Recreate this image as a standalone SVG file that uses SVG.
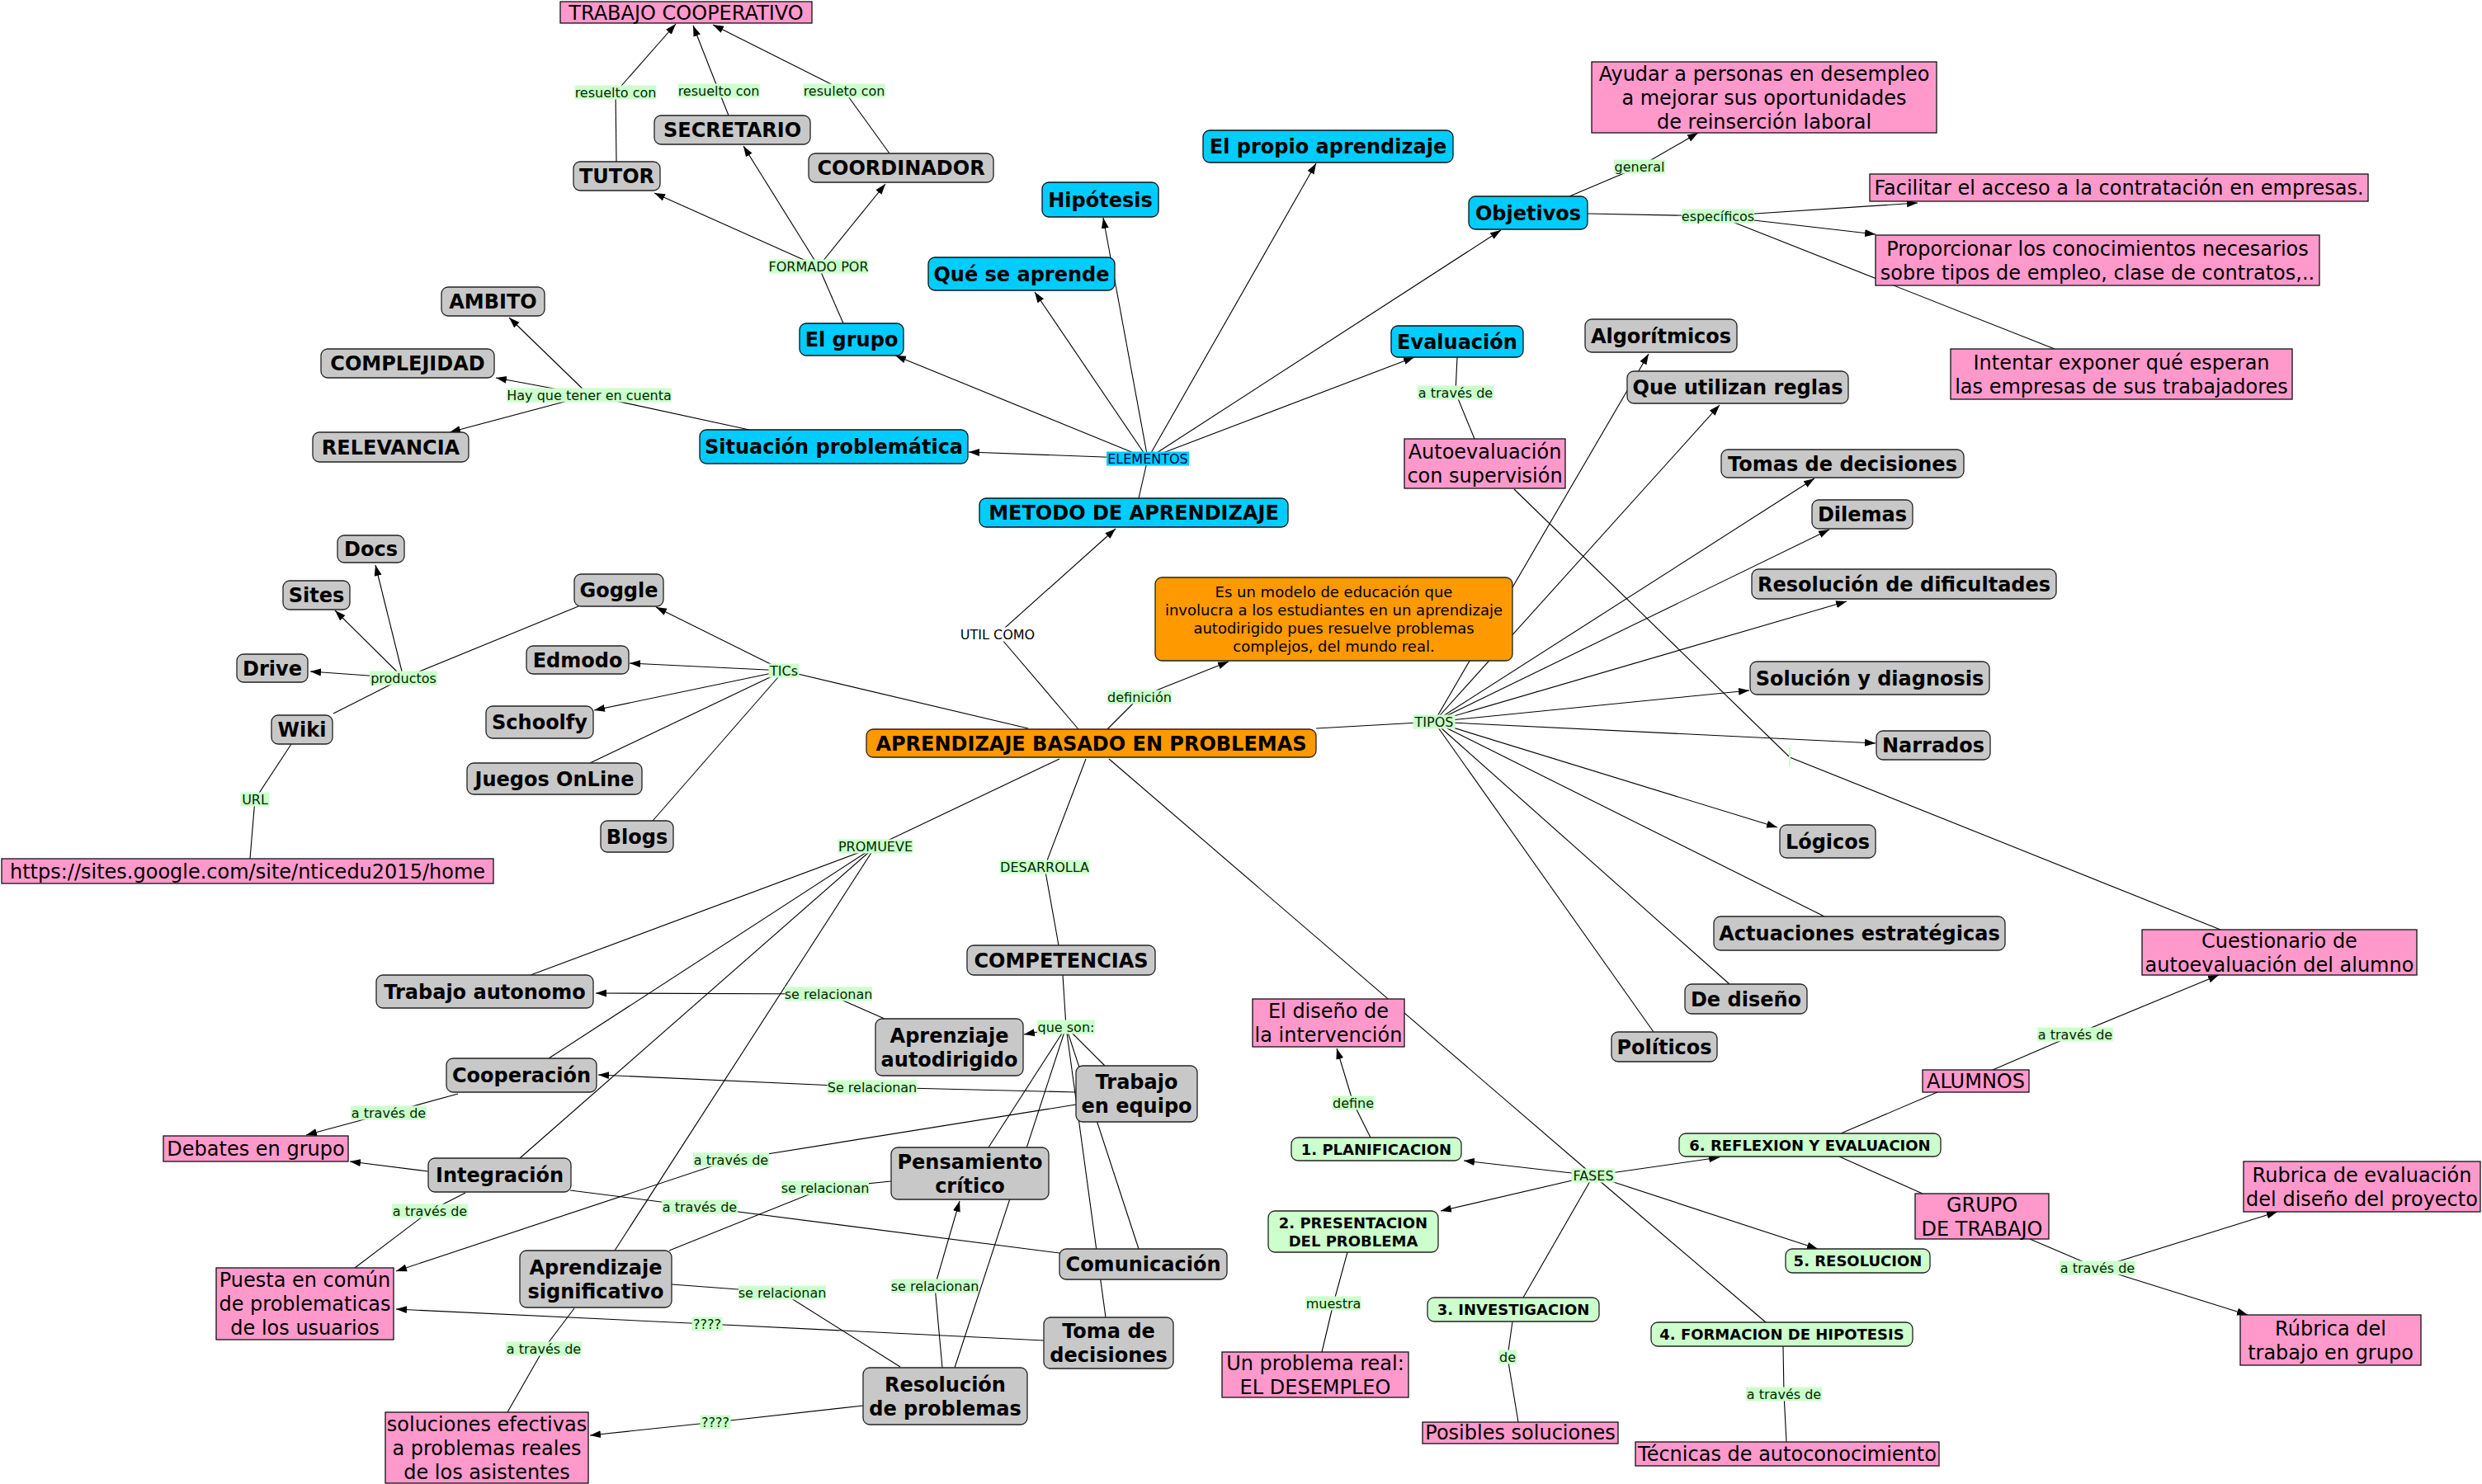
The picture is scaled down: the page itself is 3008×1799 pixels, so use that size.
<svg xmlns="http://www.w3.org/2000/svg" width="3008" height="1799" viewBox="0 0 3008 1799">
<style>
text{font-family:"DejaVu Sans",Verdana,"Liberation Sans",sans-serif;text-anchor:middle;fill:#000}
.c{stroke:#000;stroke-width:1.1;fill:none}
.a{marker-end:url(#arr)}
.g rect{fill:#c8c8c8;stroke:#222;stroke-width:1.3}
.b rect{fill:#00ccff;stroke:#111;stroke-width:1.3}
.o rect{fill:#ff9900;stroke:#222;stroke-width:1.3}
.p rect{fill:#ff99cc;stroke:#111;stroke-width:1.3}
.f rect{fill:#ccffcc;stroke:#222;stroke-width:1.3}
.g text,.b text,.o text.bd{font-size:24px;font-weight:bold}
.p text{font-size:24px}
.o text.sm{font-size:18px}
.f text{font-size:18px;font-weight:bold}
.l rect{fill:#ccffcc}
.l text{font-size:16px;fill:#002800}
</style>
<defs>
<marker id="arr" markerWidth="14" markerHeight="10" refX="13" refY="5" orient="auto" markerUnits="userSpaceOnUse"><path d="M0,0.5 L13,5 L0,9.5 z" fill="#000"/></marker>
</defs>
<rect width="3008" height="1799" fill="#fff"/>
<g id="connectors">
<path class="c" d="M747,196 L746,112"/><path class="c a" d="M746,112 L819,29"/>
<path class="c" d="M883,140 L871,110"/><path class="c a" d="M871,110 L840,31"/>
<path class="c" d="M1078,186 L1023,110"/><path class="c a" d="M1023,110 L864,30"/>
<path class="c" d="M1022,392 L992,323"/><path class="c a" d="M992,323 L793,234"/><path class="c a" d="M992,323 L901,177"/><path class="c a" d="M992,323 L1073,223"/>
<path class="c" d="M908,521 L714,479"/><path class="c a" d="M714,479 L617,385"/><path class="c a" d="M714,479 L601,458"/><path class="c a" d="M714,479 L545,524"/>
<path class="c" d="M1380,604 L1391,556"/>
<path class="c a" d="M1391,556 L1174,548"/><path class="c a" d="M1391,556 L1085,431"/><path class="c a" d="M1391,556 L1254,354"/><path class="c a" d="M1391,556 L1337,264"/><path class="c a" d="M1391,556 L1595,198"/><path class="c a" d="M1391,556 L1819,279"/><path class="c a" d="M1391,556 L1714,433"/>
<path class="c" d="M1766,433 L1764,476 L1787,532"/>
<path class="c" d="M1902,238 L1987,202"/><path class="c a" d="M1987,202 L2058,161"/>
<path class="c" d="M1924,259 L2082,262"/><path class="c a" d="M2082,262 L2324,246"/><path class="c a" d="M2082,262 L2273,284"/><path class="c" d="M2082,262 L2490,423"/>
<path class="c" d="M1835,593 L2169,918 L2691,1127"/>
<path class="c a" d="M489,822 L455,685"/><path class="c a" d="M489,822 L406,740"/><path class="c a" d="M489,822 L376,814"/>
<path class="c" d="M701,735 L489,822"/><path class="c" d="M404,865 L489,822"/>
<path class="c" d="M353,902 L309,969 L303,1041"/>
<path class="c" d="M1246,883 L950,813"/>
<path class="c a" d="M950,813 L795,736"/><path class="c a" d="M950,813 L763,804"/><path class="c a" d="M950,813 L720,861"/><path class="c" d="M950,813 L715,925"/><path class="c" d="M950,813 L791,995"/>
<path class="c" d="M1307,884 L1209,769"/><path class="c a" d="M1209,769 L1352,641"/>
<path class="c" d="M1342,884 L1381,845"/><path class="c a" d="M1381,845 L1489,802"/>
<path class="c" d="M1595,883 L1738,875"/>
<path class="c a" d="M1738,875 L1998,429"/><path class="c a" d="M1738,875 L2084,491"/><path class="c a" d="M1738,875 L2199,580"/><path class="c a" d="M1738,875 L2217,642"/><path class="c a" d="M1738,875 L2238,729"/><path class="c a" d="M1738,875 L2120,837"/><path class="c a" d="M1738,875 L2273,901"/><path class="c a" d="M1738,875 L2154,1003"/>
<path class="c" d="M1738,875 L2211,1111"/><path class="c" d="M1738,875 L2096,1193"/><path class="c" d="M1738,875 L2004,1251"/>
<path class="c" d="M1284,920 L1061,1026"/>
<path class="c" d="M1061,1026 L643,1182"/><path class="c" d="M1061,1026 L665,1283"/><path class="c" d="M1061,1026 L630,1404"/><path class="c" d="M1061,1026 L745,1516"/>
<path class="c" d="M1316,920 L1266,1051 L1283,1146"/>
<path class="c" d="M1344,920 L1931,1425"/>
<path class="c a" d="M1931,1425 L1774,1407"/><path class="c a" d="M1931,1425 L1746,1468"/><path class="c" d="M1931,1425 L1846,1573"/><path class="c" d="M1931,1425 L2140,1603"/><path class="c a" d="M1931,1425 L2203,1514"/><path class="c a" d="M1931,1425 L2084,1403"/>
<path class="c" d="M1288,1182 L1292,1245"/>
<path class="c a" d="M1292,1245 L1241,1254"/><path class="c" d="M1292,1245 L1339,1292"/><path class="c" d="M1292,1245 L1198,1391"/><path class="c" d="M1292,1245 L1157,1658"/><path class="c" d="M1292,1245 L1380,1514"/><path class="c" d="M1292,1245 L1340,1597"/>
<path class="c" d="M1072,1235 L1004,1205"/><path class="c a" d="M1004,1205 L722,1204"/>
<path class="c" d="M1304,1324 L1057,1318"/><path class="c a" d="M1057,1318 L725,1303"/>
<path class="c" d="M555,1326 L471,1349"/><path class="c a" d="M471,1349 L371,1376"/>
<path class="c a" d="M519,1420 L424,1408"/>
<path class="c" d="M564,1446 L521,1468 L430,1537"/>
<path class="c" d="M691,1443 L848,1463 L1284,1519"/>
<path class="c" d="M1304,1339 L886,1406"/><path class="c a" d="M886,1406 L480,1541"/>
<path class="c" d="M811,1516 L1000,1440 L1080,1432"/>
<path class="c" d="M814,1557 L948,1567 L1091,1657"/>
<path class="c" d="M1265,1625 L857,1605"/><path class="c a" d="M857,1605 L480,1587"/>
<path class="c" d="M696,1586 L659,1635 L615,1712"/>
<path class="c" d="M1046,1704 L867,1724"/><path class="c a" d="M867,1724 L715,1740"/>
<path class="c" d="M1142,1658 L1133,1559"/><path class="c a" d="M1133,1559 L1163,1456"/>
<path class="c" d="M1661,1379 L1640,1337"/><path class="c a" d="M1640,1337 L1620,1271"/>
<path class="c" d="M1633,1518 L1616,1580 L1602,1639"/>
<path class="c" d="M1833,1602 L1827,1645 L1840,1724"/>
<path class="c" d="M2161,1632 L2162,1690 L2165,1748"/>
<path class="c" d="M2231,1374 L2348,1324"/>
<path class="c" d="M2415,1297 L2515,1254"/><path class="c a" d="M2515,1254 L2689,1182"/>
<path class="c" d="M2229,1402 L2330,1447"/>
<path class="c" d="M2460,1502 L2542,1537"/><path class="c a" d="M2542,1537 L2760,1469"/><path class="c a" d="M2542,1537 L2724,1594"/>
</g>
<g id="linking-phrases">
<g id="lp1" class="l"><rect x="696.5" y="103.5" width="99" height="17"/><text x="746" y="118">resuelto con</text></g>
<g id="lp2" class="l"><rect x="821.5" y="101.5" width="99" height="17"/><text x="871" y="116">resuelto con</text></g>
<g id="lp3" class="l"><rect x="973.5" y="101.5" width="99" height="17"/><text x="1023" y="116">resuleto con</text></g>
<g id="lp4" class="l"><rect x="931.5" y="314.5" width="121" height="17"/><text x="992" y="329">FORMADO POR</text></g>
<g id="lp5" class="l"><rect x="614" y="470.5" width="200" height="17"/><text x="714" y="485">Hay que tener en cuenta</text></g>
<g id="lp6"><rect x="1341" y="547.5" width="100" height="17" fill="#00ccff"/><text x="1391" y="562" style="font-size:16px;fill:#000044">ELEMENTOS</text></g>
<g id="lp7" class="l"><rect x="1718" y="467.5" width="92" height="17"/><text x="1764" y="482">a través de</text></g>
<g id="lp8" class="l"><rect x="1956" y="193.5" width="62" height="17"/><text x="1987" y="208">general</text></g>
<g id="lp9" class="l"><rect x="2038" y="253.5" width="88" height="17"/><text x="2082" y="268">específicos</text></g>
<g id="lp10"><rect x="2168" y="906" width="2" height="23" fill="#ccffcc"/></g>
<g id="lp11" class="l"><rect x="448" y="813.5" width="82" height="17"/><text x="489" y="828">productos</text></g>
<g id="lp12" class="l"><rect x="931.5" y="804.5" width="37" height="17"/><text x="950" y="819">TICs</text></g>
<g id="lp13" class="l"><rect x="291.5" y="960.5" width="35" height="17"/><text x="309" y="975">URL</text></g>
<g id="lp14"><rect x="1162.5" y="760.5" width="93" height="17" fill="#fff"/><text x="1209" y="775" style="font-size:16px">UTIL COMO</text></g>
<g id="lp15" class="l"><rect x="1342" y="836.5" width="78" height="17"/><text x="1381" y="851">definición</text></g>
<g id="lp16" class="l"><rect x="1712.5" y="866.5" width="51" height="17"/><text x="1738" y="881">TIPOS</text></g>
<g id="lp17" class="l"><rect x="1015.5" y="1017.5" width="91" height="17"/><text x="1061" y="1032">PROMUEVE</text></g>
<g id="lp18" class="l"><rect x="1211.5" y="1042.5" width="109" height="17"/><text x="1266" y="1057">DESARROLLA</text></g>
<g id="lp19" class="l"><rect x="951" y="1196.5" width="106" height="17"/><text x="1004" y="1211">se relacionan</text></g>
<g id="lp20" class="l"><rect x="1257" y="1236.5" width="70" height="17"/><text x="1292" y="1251">que son:</text></g>
<g id="lp21" class="l"><rect x="1002.5" y="1309.5" width="109" height="17"/><text x="1057" y="1324">Se relacionan</text></g>
<g id="lp22" class="l"><rect x="425" y="1340.5" width="92" height="17"/><text x="471" y="1355">a través de</text></g>
<g id="lp23" class="l"><rect x="840" y="1397.5" width="92" height="17"/><text x="886" y="1412">a través de</text></g>
<g id="lp24" class="l"><rect x="947" y="1431.5" width="106" height="17"/><text x="1000" y="1446">se relacionan</text></g>
<g id="lp25" class="l"><rect x="802" y="1454.5" width="92" height="17"/><text x="848" y="1469">a través de</text></g>
<g id="lp26" class="l"><rect x="475" y="1459.5" width="92" height="17"/><text x="521" y="1474">a través de</text></g>
<g id="lp27" class="l"><rect x="895" y="1558.5" width="106" height="17"/><text x="948" y="1573">se relacionan</text></g>
<g id="lp28" class="l"><rect x="1080" y="1550.5" width="106" height="17"/><text x="1133" y="1565">se relacionan</text></g>
<g id="lp29" class="l"><rect x="838.5" y="1596.5" width="37" height="17"/><text x="857" y="1611">????</text></g>
<g id="lp30" class="l"><rect x="613" y="1626.5" width="92" height="17"/><text x="659" y="1641">a través de</text></g>
<g id="lp31" class="l"><rect x="848.5" y="1715.5" width="37" height="17"/><text x="867" y="1730">????</text></g>
<g id="lp32" class="l"><rect x="1614.5" y="1328.5" width="51" height="17"/><text x="1640" y="1343">define</text></g>
<g id="lp33" class="l"><rect x="1904.5" y="1416.5" width="53" height="17"/><text x="1931" y="1431">FASES</text></g>
<g id="lp34" class="l"><rect x="1582.5" y="1571.5" width="67" height="17"/><text x="1616" y="1586">muestra</text></g>
<g id="lp35" class="l"><rect x="1816" y="1636.5" width="22" height="17"/><text x="1827" y="1651">de</text></g>
<g id="lp36" class="l"><rect x="2469" y="1245.5" width="92" height="17"/><text x="2515" y="1260">a través de</text></g>
<g id="lp37" class="l"><rect x="2496" y="1528.5" width="92" height="17"/><text x="2542" y="1543">a través de</text></g>
<g id="lp38" class="l"><rect x="2116" y="1681.5" width="92" height="17"/><text x="2162" y="1696">a través de</text></g>
</g>
<g id="nodes">
<g id="n-secretario" class="g"><rect x="793" y="140" width="189" height="35" rx="8"/><text x="887.5" y="166">SECRETARIO</text></g>
<g id="n-tutor" class="g"><rect x="695" y="196" width="105" height="35" rx="8"/><text x="747.5" y="222">TUTOR</text></g>
<g id="n-coordinador" class="g"><rect x="980" y="186" width="224" height="35" rx="8"/><text x="1092" y="212">COORDINADOR</text></g>
<g id="n-ambito" class="g"><rect x="535" y="348" width="125" height="35" rx="8"/><text x="597.5" y="374">AMBITO</text></g>
<g id="n-complejidad" class="g"><rect x="389" y="423" width="210" height="35" rx="8"/><text x="494" y="449">COMPLEJIDAD</text></g>
<g id="n-relevancia" class="g"><rect x="379" y="524" width="189" height="36" rx="8"/><text x="473.5" y="550.5">RELEVANCIA</text></g>
<g id="n-algoritmicos" class="g"><rect x="1921" y="387" width="184" height="40" rx="8"/><text x="2013" y="415.5">Algorítmicos</text></g>
<g id="n-reglas" class="g"><rect x="1972" y="450" width="268" height="39" rx="8"/><text x="2106" y="478">Que utilizan reglas</text></g>
<g id="n-tomas" class="g"><rect x="2086" y="545" width="294" height="34" rx="8"/><text x="2233" y="570.5">Tomas de decisiones</text></g>
<g id="n-dilemas" class="g"><rect x="2196" y="606" width="122" height="35" rx="8"/><text x="2257" y="632">Dilemas</text></g>
<g id="n-resdif" class="g"><rect x="2123" y="690" width="369" height="36" rx="8"/><text x="2307.5" y="716.5">Resolución de dificultades</text></g>
<g id="n-solucion" class="g"><rect x="2121" y="802" width="290" height="40" rx="8"/><text x="2266" y="830.5">Solución y diagnosis</text></g>
<g id="n-narrados" class="g"><rect x="2274" y="886" width="138" height="35" rx="8"/><text x="2343" y="912">Narrados</text></g>
<g id="n-logicos" class="g"><rect x="2157" y="1000" width="116" height="40" rx="8"/><text x="2215" y="1028.5">Lógicos</text></g>
<g id="n-actuaciones" class="g"><rect x="2077" y="1111" width="353" height="41" rx="8"/><text x="2253.5" y="1140">Actuaciones estratégicas</text></g>
<g id="n-dediseno" class="g"><rect x="2042" y="1193" width="148" height="36" rx="8"/><text x="2116" y="1219.5">De diseño</text></g>
<g id="n-politicos" class="g"><rect x="1953" y="1251" width="128" height="36" rx="8"/><text x="2017" y="1277.5">Políticos</text></g>
<g id="n-docs" class="g"><rect x="409" y="649" width="81" height="33" rx="8"/><text x="449.5" y="674">Docs</text></g>
<g id="n-sites" class="g"><rect x="343" y="704" width="81" height="35" rx="8"/><text x="383.5" y="730">Sites</text></g>
<g id="n-goggle" class="g"><rect x="696" y="696" width="108" height="39" rx="8"/><text x="750" y="724">Goggle</text></g>
<g id="n-drive" class="g"><rect x="287" y="793" width="86" height="34" rx="8"/><text x="330" y="818.5">Drive</text></g>
<g id="n-edmodo" class="g"><rect x="638" y="783" width="124" height="34" rx="8"/><text x="700" y="808.5">Edmodo</text></g>
<g id="n-schoolfy" class="g"><rect x="589" y="856" width="130" height="39" rx="8"/><text x="654" y="884">Schoolfy</text></g>
<g id="n-wiki" class="g"><rect x="329" y="867" width="74" height="35" rx="8"/><text x="366" y="893">Wiki</text></g>
<g id="n-juegos" class="g"><rect x="566" y="925" width="212" height="38" rx="8"/><text x="672" y="952.5">Juegos OnLine</text></g>
<g id="n-blogs" class="g"><rect x="728" y="995" width="88" height="38" rx="8"/><text x="772" y="1022.5">Blogs</text></g>
<g id="n-autonomo" class="g"><rect x="456" y="1182" width="263" height="40" rx="8"/><text x="587.5" y="1210.5">Trabajo autonomo</text></g>
<g id="n-competencias" class="g"><rect x="1172" y="1146" width="228" height="36" rx="8"/><text x="1286" y="1172.5">COMPETENCIAS</text></g>
<g id="n-cooperacion" class="g"><rect x="541" y="1283" width="182" height="41" rx="8"/><text x="632" y="1312">Cooperación</text></g>
<g id="n-integracion" class="g"><rect x="519" y="1404" width="173" height="41" rx="8"/><text x="605.5" y="1433">Integración</text></g>
<g id="n-comunicacion" class="g"><rect x="1284" y="1514" width="203" height="37" rx="8"/><text x="1385.5" y="1541">Comunicación</text></g>
<g id="n-aprsig" class="g"><rect x="630" y="1516" width="184" height="69" rx="8"/><text x="722" y="1544.5">Aprendizaje</text><text x="722" y="1573.5">significativo</text></g>
<g id="n-aprauto" class="g"><rect x="1061" y="1235" width="179" height="69" rx="8"/><text x="1150.5" y="1263.5">Aprenziaje</text><text x="1150.5" y="1292.5">autodirigido</text></g>
<g id="n-equipo" class="g"><rect x="1304" y="1292" width="147" height="68" rx="8"/><text x="1377.5" y="1320">Trabajo</text><text x="1377.5" y="1349">en equipo</text></g>
<g id="n-pensamiento" class="g"><rect x="1080" y="1391" width="191" height="63" rx="8"/><text x="1175.5" y="1416.5">Pensamiento</text><text x="1175.5" y="1445.5">crítico</text></g>
<g id="n-toma" class="g"><rect x="1265" y="1597" width="157" height="62" rx="8"/><text x="1343.5" y="1622">Toma de</text><text x="1343.5" y="1651">decisiones</text></g>
<g id="n-resolucion" class="g"><rect x="1046" y="1658" width="199" height="69" rx="8"/><text x="1145.5" y="1686.5">Resolución</text><text x="1145.5" y="1715.5">de problemas</text></g>
<g id="n-propio" class="b"><rect x="1458" y="158" width="303" height="39" rx="8"/><text x="1609.5" y="186">El propio aprendizaje</text></g>
<g id="n-hipotesis" class="b"><rect x="1263" y="221" width="141" height="42" rx="8"/><text x="1333.5" y="250.5">Hipótesis</text></g>
<g id="n-queaprende" class="b"><rect x="1125" y="312" width="226" height="40" rx="8"/><text x="1238" y="340.5">Qué se aprende</text></g>
<g id="n-objetivos" class="b"><rect x="1780" y="238" width="144" height="40" rx="8"/><text x="1852" y="266.5">Objetivos</text></g>
<g id="n-grupo" class="b"><rect x="969" y="392" width="126" height="39" rx="8"/><text x="1032" y="420">El grupo</text></g>
<g id="n-evaluacion" class="b"><rect x="1686" y="395" width="160" height="38" rx="8"/><text x="1766" y="422.5">Evaluación</text></g>
<g id="n-situacion" class="b"><rect x="848" y="521" width="325" height="41" rx="8"/><text x="1010.5" y="550">Situación problemática</text></g>
<g id="n-metodo" class="b"><rect x="1187" y="604" width="374" height="35" rx="8"/><text x="1374" y="630">METODO DE APRENDIZAJE</text></g>
<g id="n-abp" class="o"><rect x="1050" y="884" width="545" height="34" rx="8"/><text class="bd" x="1322.5" y="909.5">APRENDIZAJE BASADO EN PROBLEMAS</text></g>
<g id="n-definicion" class="o"><rect x="1400" y="700" width="433" height="101" rx="8"/><text class="sm" x="1616.5" y="723.5">Es un modelo de educación que</text><text class="sm" x="1616.5" y="745.5">involucra a los estudiantes en un aprendizaje</text><text class="sm" x="1616.5" y="767.5">autodirigido pues resuelve problemas</text><text class="sm" x="1616.5" y="789.5">complejos, del mundo real.</text></g>
<g id="n-trabcoop" class="p"><rect x="679" y="2" width="305" height="26"/><text x="831.5" y="23.5">TRABAJO COOPERATIVO</text></g>
<g id="n-ayudar" class="p"><rect x="1929" y="75" width="418" height="86"/><text x="2138" y="98">Ayudar a personas en desempleo</text><text x="2138" y="127">a mejorar sus oportunidades</text><text x="2138" y="156">de reinserción laboral</text></g>
<g id="n-facilitar" class="p"><rect x="2266" y="211" width="604" height="33"/><text x="2568" y="236">Facilitar el acceso a la contratación en empresas.</text></g>
<g id="n-proporcionar" class="p"><rect x="2273" y="285" width="538" height="61"/><text x="2542" y="309.5">Proporcionar los conocimientos necesarios</text><text x="2542" y="338.5">sobre tipos de empleo, clase de contratos,..</text></g>
<g id="n-intentar" class="p"><rect x="2364" y="423" width="414" height="61"/><text x="2571" y="447.5">Intentar exponer qué esperan</text><text x="2571" y="476.5">las empresas de sus trabajadores</text></g>
<g id="n-autoeval" class="p"><rect x="1702" y="532" width="195" height="60"/><text x="1799.5" y="556">Autoevaluación</text><text x="1799.5" y="585">con supervisión</text></g>
<g id="n-url" class="p"><rect x="2" y="1041" width="596" height="30"/><text x="300" y="1064.5">https://sites.google.com/site/nticedu2015/home</text></g>
<g id="n-debates" class="p"><rect x="198" y="1377" width="224" height="31"/><text x="310" y="1401">Debates en grupo</text></g>
<g id="n-puesta" class="p"><rect x="262" y="1537" width="215" height="87"/><text x="369.5" y="1560">Puesta en común</text><text x="369.5" y="1589">de problematicas</text><text x="369.5" y="1618">de los usuarios</text></g>
<g id="n-soluciones" class="p"><rect x="467" y="1712" width="246" height="86"/><text x="590" y="1734.5">soluciones efectivas</text><text x="590" y="1763.5">a problemas reales</text><text x="590" y="1792.5">de los asistentes</text></g>
<g id="n-diseno" class="p"><rect x="1518" y="1211" width="184" height="58"/><text x="1610" y="1234">El diseño de</text><text x="1610" y="1263">la intervención</text></g>
<g id="n-problema" class="p"><rect x="1481" y="1639" width="226" height="55"/><text x="1594" y="1660.5">Un problema real:</text><text x="1594" y="1689.5">EL DESEMPLEO</text></g>
<g id="n-posibles" class="p"><rect x="1724" y="1724" width="237" height="26"/><text x="1842.5" y="1745">Posibles soluciones</text></g>
<g id="n-tecnicas" class="p"><rect x="1982" y="1748" width="368" height="29"/><text x="2166" y="1771">Técnicas de autoconocimiento</text></g>
<g id="n-cuestionario" class="p"><rect x="2596" y="1127" width="333" height="55"/><text x="2762.5" y="1148.5">Cuestionario de</text><text x="2762.5" y="1177.5">autoevaluación del alumno</text></g>
<g id="n-alumnos" class="p"><rect x="2330" y="1297" width="129" height="27"/><text x="2394.5" y="1319">ALUMNOS</text></g>
<g id="n-grupotrabajo" class="p"><rect x="2321" y="1447" width="162" height="55"/><text x="2402" y="1468.5">GRUPO</text><text x="2402" y="1497.5">DE TRABAJO</text></g>
<g id="n-rubrica1" class="p"><rect x="2719" y="1408" width="287" height="61"/><text x="2862.5" y="1432.5">Rubrica de evaluación</text><text x="2862.5" y="1461.5">del diseño del proyecto</text></g>
<g id="n-rubrica2" class="p"><rect x="2715" y="1594" width="219" height="61"/><text x="2824.5" y="1618.5">Rúbrica del</text><text x="2824.5" y="1647.5">trabajo en grupo</text></g>
<g id="n-fase1" class="f"><rect x="1565" y="1379" width="206" height="28" rx="8"/><text x="1668" y="1399.5">1. PLANIFICACION</text></g>
<g id="n-fase2" class="f"><rect x="1537" y="1468" width="206" height="50" rx="8"/><text x="1640" y="1488.5">2. PRESENTACION</text><text x="1640" y="1510.5">DEL PROBLEMA</text></g>
<g id="n-fase3" class="f"><rect x="1730" y="1573" width="208" height="29" rx="8"/><text x="1834" y="1594">3. INVESTIGACION</text></g>
<g id="n-fase4" class="f"><rect x="2001" y="1603" width="317" height="29" rx="8"/><text x="2159.5" y="1624">4. FORMACION DE HIPOTESIS</text></g>
<g id="n-fase5" class="f"><rect x="2164" y="1514" width="175" height="29" rx="8"/><text x="2251.5" y="1535">5. RESOLUCION</text></g>
<g id="n-fase6" class="f"><rect x="2035" y="1374" width="317" height="28" rx="8"/><text x="2193.5" y="1394.5">6. REFLEXION Y EVALUACION</text></g>
</g>
</svg>
